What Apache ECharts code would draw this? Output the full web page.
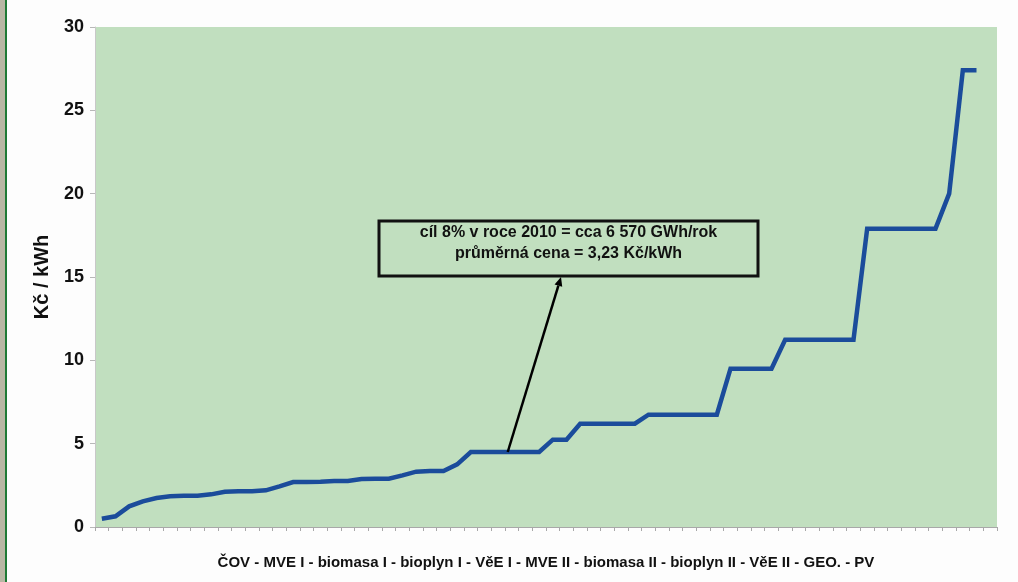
<!DOCTYPE html>
<html>
<head>
<meta charset="utf-8">
<script src="https://cdn.jsdelivr.net/npm/echarts@6/dist/echarts.min.js"></script>
<style>
html,body{margin:0;padding:0;background:#fdfdfd;}
#chart{width:1018px;height:582px;}
</style>
</head>
<body>
<div id="chart"></div>
<script>
// ---- data ----
const categoryCount = 66;
const categories = Array.from({length: categoryCount}, (_, i) => String(i + 1));
const prices = [
  0.5, 0.64, 1.24, 1.54, 1.74, 1.84, 1.88, 1.88, 1.96, 2.12,
  2.14, 2.14, 2.2, 2.44, 2.7, 2.7, 2.72, 2.76, 2.76, 2.88,
  2.9, 2.9, 3.1, 3.32, 3.36, 3.36, 3.76, 4.5, 4.5, 4.5,
  4.5, 4.5, 4.5, 5.24, 5.24, 6.2, 6.2, 6.2, 6.2, 6.2,
  6.74, 6.74, 6.74, 6.74, 6.74, 6.74, 9.5, 9.5, 9.5, 9.5,
  11.24, 11.24, 11.24, 11.24, 11.24, 11.24,
  17.9, 17.9, 17.9, 17.9, 17.9, 17.9,
  20.0, 27.4, 27.4
];
const yTicks = [0, 5, 10, 15, 20, 25, 30];
const yAxisName = 'Kč / kWh';
const xAxisName = 'ČOV - MVE I - biomasa I - bioplyn I - VěE I - MVE II - biomasa II - bioplyn II - VěE II - GEO. - PV';
const noteLines = ['cíl 8% v roce 2010 = cca 6 570 GWh/rok', 'průměrná cena = 3,23 Kč/kWh'];
const arrowBase = {index: 29, frac: 0.7, value: 4.5};

const FONT = '"Liberation Sans", Arial, sans-serif';
const chart = echarts.init(document.getElementById('chart'));

const option = {
  backgroundColor: '#fdfdfd',
  animation: false,
  grid: {
    left: 95, right: 21, top: 27, bottom: 55,
    show: true, backgroundColor: '#c1dfbf', borderWidth: 0
  },
  xAxis: {
    type: 'category',
    data: categories,
    boundaryGap: true,
    name: xAxisName,
    nameLocation: 'middle',
    nameGap: 28,
    nameTextStyle: {fontFamily: FONT, fontWeight: 'bold', fontSize: 15, color: '#111'},
    axisLine: {show: true, lineStyle: {color: '#a8a8a8', width: 1}},
    axisTick: {show: true, interval: 0, length: 4, lineStyle: {color: '#a8a8a8'}},
    axisLabel: {show: false},
    splitLine: {show: false}
  },
  yAxis: {
    type: 'value',
    min: yTicks[0], max: yTicks[yTicks.length - 1], interval: 5,
    name: yAxisName,
    nameLocation: 'middle',
    nameGap: 43,
    nameRotate: 90,
    nameTextStyle: {fontFamily: FONT, fontWeight: 'bold', fontSize: 20, color: '#111'},
    axisLine: {show: true, lineStyle: {color: '#c8c8c8', width: 1}},
    axisTick: {show: true, length: 5, lineStyle: {color: '#b8b8b8'}},
    axisLabel: {fontFamily: FONT, fontWeight: 'bold', fontSize: 18, color: '#111', margin: 11},
    splitLine: {show: false}
  },
  series: [{
    type: 'line',
    data: prices,
    symbol: 'none',
    smooth: false,
    lineStyle: {color: '#1b4c9b', width: 4.5, join: 'miter'},
    z: 3
  }]
};
chart.setOption(option);

// annotation (box + arrow)
const p0 = chart.convertToPixel({gridIndex: 0}, [arrowBase.index, arrowBase.value]);
const p1 = chart.convertToPixel({gridIndex: 0}, [arrowBase.index + 1, arrowBase.value]);
const baseX = p0[0] + (p1[0] - p0[0]) * arrowBase.frac;
const baseY = p0[1];
const box = {x: 379, y: 221, w: 379, h: 55};
const tipX = 561, tipY = box.y + box.h + 1;
const ang = Math.atan2(tipY - baseY, tipX - baseX);
const ah = 9, aw = 4;
const bx = tipX - ah * Math.cos(ang), by = tipY - ah * Math.sin(ang);
const nx = -Math.sin(ang), ny = Math.cos(ang);

chart.setOption({
  graphic: [
    {type: 'rect', shape: {x: 0, y: 0, width: 5, height: 582}, style: {fill: '#b9b7a4'}, silent: true},
    {type: 'rect', shape: {x: 5, y: 0, width: 2, height: 582}, style: {fill: '#1f7a35'}, silent: true},
    {type: 'line', shape: {x1: baseX, y1: baseY, x2: bx, y2: by}, style: {stroke: '#000', lineWidth: 2.5}, z: 10},
    {type: 'polygon', shape: {points: [[tipX, tipY], [bx + nx * aw, by + ny * aw], [bx - nx * aw, by - ny * aw]]}, style: {fill: '#000'}, z: 10},
    {type: 'rect', shape: {x: box.x, y: box.y, width: box.w, height: box.h}, style: {fill: 'rgba(0,0,0,0)', stroke: '#111', lineWidth: 3}, z: 10},
    {type: 'text', x: box.x + box.w / 2, y: 233, style: {text: noteLines[0], fontFamily: FONT, fontWeight: 'bold', fontSize: 16, fill: '#111', align: 'center', verticalAlign: 'middle'}, z: 11},
    {type: 'text', x: box.x + box.w / 2, y: 254, style: {text: noteLines[1], fontFamily: FONT, fontWeight: 'bold', fontSize: 16, fill: '#111', align: 'center', verticalAlign: 'middle'}, z: 11}
  ]
});
</script>
</body>
</html>
